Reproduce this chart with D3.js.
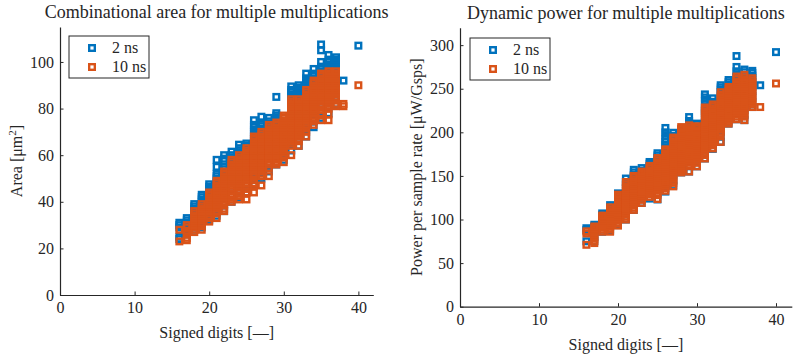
<!DOCTYPE html>
<html>
<head>
<meta charset="utf-8">
<script src="https://cdn.jsdelivr.net/npm/d3@7"></script>
<style>
  body { margin: 0; background: #fff; }
  text { font-family: "Liberation Serif", "Times New Roman", serif; fill: #262626; }
</style>
</head>
<body>
<div id="chart"></div>
<script>
// signed digits of each column of points
var xCols = [16, 17, 18, 19, 20, 21, 22, 23, 24, 25, 26, 27, 28, 29, 30, 31, 32, 33, 34, 35, 36, 37, 38, 40];
var seriesNames = ["2 ns", "10 ns"];

// combinational area [um^2], one list per column
var areaFast = [
  [24, 25, 29, 30, 31],
  [26, 28, 30, 31, 32, 33],
  [28, 30.5, 33, 35, 36, 37, 38, 39],
  [29, 32, 35, 37.5, 39, 40, 41, 42, 43],
  [32, 35, 38, 41, 43, 44.5, 45.5, 46.5, 47.5],
  [34, 37, 40, 43, 46, 48.5, 50, 51, 52, 55, 58],
  [36, 39, 42, 45, 48, 50, 52, 53, 54, 55, 57.5, 58.5, 60],
  [40, 43, 46, 49, 52, 55, 57, 58, 59, 60, 61.5],
  [42, 45, 48, 51, 54, 57, 59, 60, 61, 62, 63, 64.5],
  [44, 47, 50, 53, 56, 59, 61, 62, 63, 64, 65],
  [47, 50, 53, 56, 59, 62, 65, 67, 68, 69, 70, 71, 72, 73, 75],
  [50, 53, 56, 59, 62, 65, 68, 69.5, 70.5, 71.5, 72.5, 73.5, 76.5],
  [53, 56, 59, 62, 65, 68, 71, 72.5, 73.5, 74.5, 76],
  [56, 59, 62, 65, 68, 71, 73, 74, 75, 76, 77, 78, 85],
  [58, 61, 64, 67, 70, 72, 74],
  [62, 65, 68, 71, 74, 77, 80, 82, 83, 84, 85, 86, 87, 88, 89.5],
  [64, 67, 70, 73, 76, 79, 82, 84, 85, 86, 87, 88, 89, 90],
  [68, 71, 74, 77, 80, 83, 86, 88, 89, 90, 91, 92, 93, 95],
  [72, 75, 78, 81, 84, 87, 90, 92, 93, 94, 95, 97],
  [76, 79, 82, 85, 88, 91, 93, 94, 95, 96, 97, 98, 100, 105, 107.5],
  [78, 81, 84, 87, 90, 93, 95, 96, 97, 98, 99, 100, 101, 103],
  [82, 85, 88, 91, 93, 94, 95, 96, 97, 98, 99, 100, 101, 102],
  [92],
  [107]
];
var areaSlow = [
  [23, 28],
  [23.5, 24.5, 26, 27.5, 29, 30],
  [27, 28, 29, 30, 31, 32, 33, 34, 35, 36],
  [28, 29.5, 31, 32, 33, 34, 35, 36, 37, 38, 39],
  [31.5, 33, 34, 35, 36, 37, 38, 39, 40, 41, 42, 43, 44],
  [33, 35, 36, 37, 38, 39, 40, 41, 42, 43, 44, 45, 46, 47, 48, 49],
  [36, 37, 38.5, 40, 41, 42, 43, 44, 45, 46, 47, 48, 49, 50, 51, 52, 53],
  [40, 41, 42, 43, 44.5, 46, 47, 48, 49, 50, 51, 52, 53, 54, 55, 56, 57, 58],
  [41, 42.5, 44, 45, 46, 47, 48, 49, 50, 51, 52, 53, 54, 55, 56, 57, 58, 59, 60],
  [41, 44, 45.5, 47, 48, 49, 50, 51, 52, 53, 54, 55, 56, 57, 58, 59, 60, 61, 62, 63],
  [44, 47, 48, 49.5, 51, 52, 53, 54, 55, 56, 57, 58, 59, 60, 61, 62, 63, 64, 65, 66, 67, 68],
  [47, 51, 52, 53, 54, 55, 56, 57, 58, 59, 60, 61, 62, 63, 64, 65, 66, 67, 68, 69, 70],
  [51, 54.5, 56, 57, 58, 59, 60, 61, 62, 63, 64, 65, 66, 67, 68, 69, 70, 71, 72, 73],
  [56, 57, 58, 59, 60, 61, 62, 63, 64, 65, 66, 67, 68, 69, 70, 71, 72, 73, 74],
  [57, 59, 60, 61, 62, 63, 64, 65, 66, 67, 68, 69, 70, 71, 72, 73, 74, 75, 76, 77],
  [60, 64, 65, 66, 67, 68, 69, 70, 71, 72, 73, 74, 75, 76, 77, 78, 79, 80, 81, 82, 83, 84],
  [64, 66, 67, 68, 69, 70, 71, 72, 73, 74, 75, 76, 77, 78, 79, 80, 81, 82, 83, 84],
  [68, 70, 71.5, 73, 74, 75, 76, 77, 78, 79, 80, 81, 82, 83, 84, 85, 86, 87, 88],
  [73, 74.5, 76, 77, 78, 79, 80, 81, 82, 83, 84, 85, 86, 87, 88, 89, 90, 91, 92],
  [75, 77, 78, 79.5, 81, 82, 83, 84, 85, 86, 87, 88, 89, 90, 91, 92, 93, 94, 95],
  [75, 77.5, 80, 81, 82, 83, 84, 85, 86, 87, 88, 89, 90, 91, 92, 93, 94, 95, 96],
  [81, 82, 84, 85, 86, 87, 88, 89, 90, 91, 92, 93, 94, 95, 96],
  [81, 82],
  [90]
];

// dynamic power per sample rate [uW/Gsps], one list per column
var powerFast = [
  [75, 88, 90],
  [75, 80, 85, 89, 92, 94],
  [86, 92, 98, 102, 105, 107],
  [87, 93, 99, 105, 109, 112, 114, 116.5],
  [94, 100, 106, 112, 118, 122, 125, 128, 130],
  [100, 106, 112, 118, 124, 130, 136, 140, 143, 147],
  [111, 117, 123, 129, 135, 141, 146, 149, 151, 154, 157],
  [119, 125, 131, 137, 143, 149, 153, 156, 159],
  [124, 130, 136, 142, 148, 154, 158, 161, 164, 166],
  [123, 130, 137, 144, 151, 158, 164, 168, 171, 173.5, 176],
  [132, 139, 146, 153, 160, 167, 174, 179, 183, 186, 189, 192, 196, 200, 205],
  [139, 145, 151, 157, 163, 169, 175, 181, 186, 190, 193, 196, 199.5],
  [154, 160, 166, 172, 178, 184, 190, 195, 198, 200, 203],
  [155, 161, 167, 173, 179, 185, 191, 197, 203, 207, 210, 213, 217.5],
  [161, 167, 173, 179, 185, 191, 197, 203, 207, 210],
  [170, 176, 182, 188, 194, 200, 206, 212, 218, 222, 225, 227.5, 232, 236, 240, 243.5],
  [181, 187, 193, 199, 205, 211, 217, 222, 227, 231, 235, 239],
  [189, 195, 201, 207, 213, 219, 225, 231, 237, 242, 246, 249, 251.5, 254],
  [210, 216, 222, 228, 234, 240, 245, 249, 252, 255, 257.5, 260],
  [215, 221, 227, 233, 239, 245, 250, 255, 259, 263, 266, 270, 275, 287.5],
  [214, 220, 226, 232, 238, 244, 250, 255, 260, 263, 266, 269, 272],
  [229, 235, 241, 247, 253, 258, 262, 265, 268, 270.5],
  [254],
  [292]
];
var powerSlow = [
  [71, 84, 86.5],
  [73, 75.5, 78, 80.5, 83, 85.5, 88, 90, 92],
  [86, 88.5, 91, 93.5, 96, 98.5, 101, 103, 104.5],
  [86, 89, 91.5, 94, 96.5, 99, 101.5, 104, 106.5, 109, 111.5, 114],
  [93, 96, 98.5, 101, 103.5, 106, 108.5, 111, 113.5, 116, 118.5, 121, 123.5, 126, 128.5],
  [100, 103, 105.5, 108, 110.5, 113, 115.5, 118, 120.5, 123, 125.5, 128, 130.5, 133, 135.5, 138, 140.5, 143],
  [111, 113.5, 116, 118.5, 121, 123.5, 126, 128.5, 131, 133.5, 136, 138.5, 141, 143.5, 146, 148.5, 150],
  [119, 122.5, 125, 127.5, 130, 132.5, 135, 137.5, 140, 142.5, 145, 147.5, 150, 152.5, 155],
  [126, 129, 131.5, 134, 136.5, 139, 141.5, 144, 146.5, 149, 151.5, 154, 156.5, 159, 161.5],
  [123.5, 128, 130.5, 133, 135.5, 138, 140.5, 143, 145.5, 148, 150.5, 153, 155.5, 158, 160.5, 163, 165.5, 168, 170.5],
  [133, 136, 138.5, 141, 143.5, 146, 148.5, 151, 153.5, 156, 158.5, 161, 163.5, 166, 168.5, 171, 173.5, 176, 178.5, 180.5],
  [138, 142, 144.5, 147, 149.5, 152, 154.5, 157, 159.5, 162, 164.5, 167, 169.5, 172, 174.5, 177, 179.5, 182, 184.5, 187, 189.5, 192, 194],
  [154, 156.5, 159, 161.5, 164, 166.5, 169, 171.5, 174, 176.5, 179, 181.5, 184, 186.5, 189, 191.5, 194, 196.5, 199, 201.5, 204, 206],
  [155, 163, 165.5, 168, 170.5, 173, 175.5, 178, 180.5, 183, 185.5, 188, 190.5, 193, 195.5, 198, 200.5, 203, 205.5, 208],
  [161, 165, 167.5, 170, 172.5, 175, 177.5, 180, 182.5, 185, 187.5, 190, 192.5, 195, 197.5, 200, 202.5, 205, 207],
  [170, 174, 176.5, 179, 181.5, 184, 186.5, 189, 191.5, 194, 196.5, 199, 201.5, 204, 206.5, 209, 211.5, 214, 216.5, 219, 221.5, 224, 226.5, 228.5],
  [181.5, 185, 187.5, 190, 192.5, 195, 197.5, 200, 202.5, 205, 207.5, 210, 212.5, 215, 217.5, 220, 222.5, 225, 227.5, 230, 232],
  [189, 198, 200.5, 203, 205.5, 208, 210.5, 213, 215.5, 218, 220.5, 223, 225.5, 228, 230.5, 233, 235.5, 238, 240.5, 243, 246],
  [210, 212.5, 215, 217.5, 220, 222.5, 225, 227.5, 230, 232.5, 235, 237.5, 240, 242.5, 245, 247.5, 250, 252],
  [215, 218, 220.5, 223, 225.5, 228, 230.5, 233, 235.5, 238, 240.5, 243, 245.5, 248, 250.5, 253, 255.5, 258, 261, 264],
  [214, 218, 220.5, 223, 225.5, 228, 230.5, 233, 235.5, 238, 240.5, 243, 245.5, 248, 250.5, 253, 255.5, 258, 260.5, 263, 266],
  [229, 232, 234.5, 237, 239.5, 242, 244.5, 247, 249.5, 252, 254.5, 257, 259.5, 262],
  [229],
  [256]
];

var xTicks = [0, 10, 20, 30, 40];
var areaTicks = [0, 20, 40, 60, 80, 100];
var powerTicks = [0, 50, 100, 150, 200, 250, 300];

var colors = ["#0072BD", "#D95319"];
var axisColor = "#262626";

var svg = d3.select("#chart").append("svg")
    .attr("width", 807)
    .attr("height", 359);

function flatten(cols) {
  var pts = [];
  xCols.forEach(function(x, i) {
    cols[i].forEach(function(v) { pts.push({ x: x, y: v }); });
  });
  return pts;
}

function drawPanel(opt) {
  var g = svg.append("g");
  var xScale = d3.scaleLinear().domain([0, 42]).range([opt.left, opt.right]);
  var yScale = d3.scaleLinear().domain([0, opt.yMax]).range([opt.bottom, opt.top]);

  // points: 2 ns first, 10 ns on top
  [opt.fast, opt.slow].forEach(function(cols, si) {
    g.append("g").selectAll("rect")
      .data(flatten(cols))
      .enter()
      .append("rect")
        .attr("x", function(d) { return xScale(d.x) - 2.8; })
        .attr("y", function(d) { return yScale(d.y) - 2.8; })
        .attr("width", 5.6)
        .attr("height", 5.6)
        .attr("fill", "none")
        .attr("stroke", colors[si])
        .attr("stroke-width", 2.4);
  });

  // axes
  var xAxis = g.append("g")
      .attr("transform", "translate(0," + opt.bottom + ")")
      .call(d3.axisBottom(xScale).tickValues(xTicks).tickSizeInner(-3.5).tickSizeOuter(0).tickPadding(7));
  var yAxis = g.append("g")
      .attr("transform", "translate(" + opt.left + ",0)")
      .call(d3.axisLeft(yScale).tickValues(opt.yTicks).tickSizeInner(-3.5).tickSizeOuter(0).tickPadding(6));
  [xAxis, yAxis].forEach(function(a) {
    a.select(".domain").attr("stroke", axisColor).attr("stroke-width", 1.2);
    a.selectAll(".tick line").attr("stroke", axisColor).attr("stroke-width", 1);
    a.selectAll(".tick text")
      .style("font-family", "'Liberation Serif', serif")
      .attr("font-size", 16)
      .attr("fill", axisColor);
  });

  // title
  g.append("text")
    .attr("x", (opt.left + opt.right) / 2)
    .attr("y", opt.titleY)
    .attr("text-anchor", "middle")
    .attr("font-size", 18)
    .text(opt.title);

  // x label
  g.append("text")
    .attr("x", (opt.left + opt.right) / 2)
    .attr("y", opt.bottom + 43)
    .attr("text-anchor", "middle")
    .attr("font-size", 16)
    .text("Signed digits [\u2014]");

  // y label
  var yl = g.append("text")
    .attr("transform", "translate(" + opt.yLabelX + "," + ((opt.top + opt.bottom) / 2) + ") rotate(-90)")
    .attr("text-anchor", "middle")
    .attr("font-size", 16);
  yl.append("tspan").text(opt.yLabel[0]);
  if (opt.yLabel.length > 1) {
    yl.append("tspan").attr("dy", -6).attr("font-size", 11).text(opt.yLabel[1]);
    yl.append("tspan").attr("dy", 6).text(opt.yLabel[2]);
  }

  // legend
  var lg = g.append("g").attr("transform", "translate(" + opt.legend[0] + "," + opt.legend[1] + ")");
  lg.append("rect")
    .attr("width", 80).attr("height", 42)
    .attr("fill", "#fff")
    .attr("stroke", axisColor)
    .attr("stroke-width", 1);
  var items = lg.selectAll("g.item")
    .data(seriesNames)
    .enter()
    .append("g")
      .attr("transform", function(d, i) { return "translate(0," + (12 + i * 19) + ")"; });
  items.append("rect")
    .attr("x", 20.2).attr("y", -2.8)
    .attr("width", 5.6).attr("height", 5.6)
    .attr("fill", "none")
    .attr("stroke", function(d, i) { return colors[i]; })
    .attr("stroke-width", 2.4);
  items.append("text")
    .attr("x", 43)
    .attr("y", 5)
    .attr("font-size", 16)
    .text(function(d) { return d; });
}

drawPanel({
  left: 60, right: 373.3, top: 27, bottom: 295, yMax: 115,
  yTicks: areaTicks, fast: areaFast, slow: areaSlow,
  title: "Combinational area for multiple multiplications", titleY: 18,
  yLabel: ["Area [\u03bcm", "2", "]"], yLabelX: 22,
  legend: [69, 36]
});

drawPanel({
  left: 460, right: 791.8, top: 27.7, bottom: 306.7, yMax: 320,
  yTicks: powerTicks, fast: powerFast, slow: powerSlow,
  title: "Dynamic power for multiple multiplications", titleY: 19,
  yLabel: ["Power per sample rate [\u03bcW/Gsps]"], yLabelX: 422,
  legend: [470, 38]
});
</script>
</body>
</html>
